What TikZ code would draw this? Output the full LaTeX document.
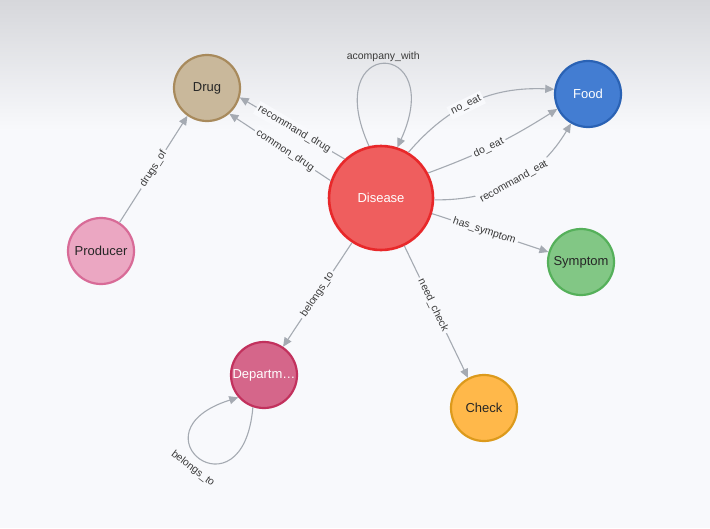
\documentclass[tikz,border=0pt]{standalone}
\usepackage{fontspec}
\setmainfont{Liberation Sans}
\usetikzlibrary{arrows.meta}

\definecolor{bgtop}{HTML}{D6D7DB}
\definecolor{bgbot}{HTML}{F8F9FC}
\definecolor{edgegray}{HTML}{A5AAB2}
\definecolor{labelgray}{HTML}{3A3A3A}
\definecolor{drugfill}{HTML}{C9B89B}
\definecolor{drugline}{HTML}{A88A5C}
\definecolor{foodfill}{HTML}{437DD2}
\definecolor{foodline}{HTML}{2A62B4}
\definecolor{prodfill}{HTML}{EBA7C2}
\definecolor{prodline}{HTML}{D86B97}
\definecolor{disfill}{HTML}{EF5E5E}
\definecolor{disline}{HTML}{E8282A}
\definecolor{symfill}{HTML}{82C785}
\definecolor{symline}{HTML}{55B05A}
\definecolor{depfill}{HTML}{D5668A}
\definecolor{depline}{HTML}{C2315D}
\definecolor{chkfill}{HTML}{FFB84A}
\definecolor{chkline}{HTML}{DC9A1C}

\tikzset{
	entity/.style={circle, minimum size=66pt, inner sep=0pt, line width=2.2pt, font=\fontsize{13}{15}\selectfont, text=black!85},
	relation/.style={draw=edgegray, line width=1.1pt, -{Triangle[length=9pt,width=8pt]}},
	rellabel/.style={font=\fontsize{10.5}{12}\selectfont, text=labelgray, fill=bgbot, inner sep=2.5pt, sloped},
	looplabel/.style={font=\fontsize{10.5}{12}\selectfont, text=labelgray},
}

\begin{document}
\begin{tikzpicture}[x=1pt,y=-1pt]
			%%%%% START %%%%%
			
			\useasboundingbox (0,0) rectangle (710,528);
			\fill[bgbot] (0,0) rectangle (710,528);
			\shade[top color=bgtop, bottom color=bgbot] (0,0) rectangle (710,130);
			
			\node[entity, fill=disfill, draw=disline, minimum size=104pt, line width=2.6pt, text=white] (disease) at (381,198) {Disease};
			\node[entity, fill=drugfill, draw=drugline] (drug) at (207,88) {Drug};
			\node[entity, fill=foodfill, draw=foodline, text=white] (food) at (588,94) {Food};
			\node[entity, fill=prodfill, draw=prodline] (producer) at (101,251) {Producer};
			\node[entity, fill=symfill, draw=symline] (symptom) at (581,262) {Symptom};
			\node[entity, fill=depfill, draw=depline, text=white] (department) at (264,375) {Departm…};
			\node[entity, fill=chkfill, draw=chkline] (check) at (484,408) {Check};
			
			\draw[relation] (disease.133) -- node[rellabel, pos=0.48] {recommand\_drug} (drug.-16);
			\draw[relation] (disease.161) -- node[rellabel, pos=0.45] {common\_drug} (drug.-49);
			\draw[relation] (producer.57) -- node[rellabel, pos=0.5] {drugs\_of} (drug.235);
			
			\draw[relation] (disease.103) .. controls +(-50,-110) and +(50,-110) .. node[looplabel, pos=0.5, above, inner sep=1.5pt] {acompany\_with} (disease.72);
			
			\draw[relation] (disease.59) to[bend left=26] node[rellabel, pos=0.45] {no\_eat} (food.172);
			\draw[relation] (disease.28) to[bend right=6] node[rellabel, pos=0.45] {do\_eat} (food.206);
			\draw[relation] (disease.-2) to[bend right=30] node[rellabel, pos=0.5] {recommand\_eat} (food.240);
			
			\draw[relation] (disease.-17) -- node[rellabel, pos=0.45] {has\_symptom} (symptom.163);
			\draw[relation] (disease.-64) -- node[rellabel, pos=0.45] {need\_check} (check.118);
			\draw[relation] (disease.237) -- node[rellabel, pos=0.5] {belongs\_to} (department.56);
			
			\draw[relation] (department.251) .. controls +(-10,115) and +(-110,35) .. node[looplabel, pos=0.5, sloped, below=4pt] {belongs\_to} (department.221);
			
			%%%%% END %%%%%
\end{tikzpicture}
\end{document}
